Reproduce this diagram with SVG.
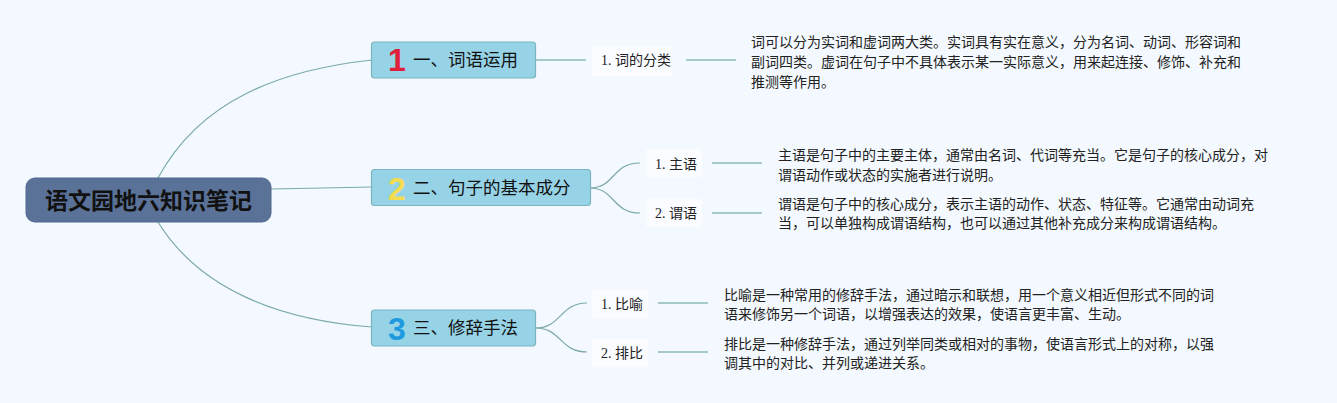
<svg xmlns="http://www.w3.org/2000/svg" width="1337" height="403" viewBox="0 0 1337 403">
<style>
.root-box{fill:#5b7298;stroke:#50688c;stroke-width:1}
.root-text{font-family:"Noto Sans CJK SC",sans-serif;font-size:23px;font-weight:bold;fill:#111}
.b-box{fill:#97d3e6;stroke:#7ab5bf;stroke-width:1.2}
.b-text{font-family:"Noto Sans CJK SC",sans-serif;font-size:17.5px;fill:#111}
.num{font-family:"Liberation Sans",sans-serif;font-size:32px;font-weight:bold}
.s-box{fill:#fafcff}
.s-text{font-family:"Liberation Serif","Noto Sans CJK SC",serif;font-size:14px;fill:#222}
.d-text{font-family:"Noto Sans CJK SC",sans-serif;font-size:14px;fill:#222}
.c{fill:none;stroke:#7aaaa6;stroke-width:1.2}
.h{fill:none;stroke:#a6cbc7;stroke-width:2}
</style>
<rect width="1337" height="403" fill="#f3f9fe"/>
<g id="connectors">
<path class="c" d="M158,178 C200,100 280,70 372,60"/>
<path class="c" d="M271,189 L372,187"/>
<path class="c" d="M158,222 C200,290 280,320 372,327"/>
<path class="h" d="M536,60 L586,60"/>
<path class="h" d="M686,60 L736,60"/>
<path class="c" d="M590,188 C615,188 612,163 640,163"/>
<path class="c" d="M590,188 C615,188 612,213 640,213"/>
<path class="h" d="M712,163 L762,163"/>
<path class="h" d="M712,213 L762,213"/>
<path class="c" d="M536,328 C561,328 560,303 587,303"/>
<path class="c" d="M536,328 C561,328 560,352 587,352"/>
<path class="h" d="M658,303 L708,303"/>
<path class="h" d="M658,352 L708,352"/>
</g>
<g id="root">
<rect class="root-box" x="26" y="178" width="245" height="44" rx="9"/>
<text class="root-text" x="148.5" y="209" text-anchor="middle">语文园地六知识笔记</text>
</g>
<g id="branch1">
<rect class="b-box" x="371.5" y="42" width="164" height="36" rx="3"/>
<text class="num" x="397" y="71" text-anchor="middle" fill="#e0203a">1</text>
<text class="b-text" x="413" y="66">一、词语运用</text>
</g>
<g id="sub1-1">
<rect class="s-box" x="592" y="46" width="80" height="30"/>
<text class="s-text" x="601" y="65">1. 词的分类</text>
</g>
<g id="desc1-1">
<text class="d-text" x="751" y="47">词可以分为实词和虚词两大类。实词具有实在意义，分为名词、动词、形容词和</text>
<text class="d-text" x="751" y="67">副词四类。虚词在句子中不具体表示某一实际意义，用来起连接、修饰、补充和</text>
<text class="d-text" x="751" y="87">推测等作用。</text>
</g>
<g id="branch2">
<rect class="b-box" x="371.5" y="169.5" width="219" height="36" rx="3"/>
<text class="num" x="397" y="200" text-anchor="middle" fill="#f3dc50">2</text>
<text class="b-text" x="413" y="194">二、句子的基本成分</text>
</g>
<g id="sub2-1">
<rect class="s-box" x="646" y="149" width="56" height="28"/>
<text class="s-text" x="655" y="169">1. 主语</text>
</g>
<g id="desc2-1">
<text class="d-text" x="778" y="160">主语是句子中的主要主体，通常由名词、代词等充当。它是句子的核心成分，对</text>
<text class="d-text" x="778" y="180">谓语动作或状态的实施者进行说明。</text>
</g>
<g id="sub2-2">
<rect class="s-box" x="646" y="199" width="56" height="28"/>
<text class="s-text" x="655" y="218">2. 谓语</text>
</g>
<g id="desc2-2">
<text class="d-text" x="778" y="209">谓语是句子中的核心成分，表示主语的动作、状态、特征等。它通常由动词充</text>
<text class="d-text" x="778" y="228">当，可以单独构成谓语结构，也可以通过其他补充成分来构成谓语结构。</text>
</g>
<g id="branch3">
<rect class="b-box" x="371.5" y="310" width="164" height="36" rx="3"/>
<text class="num" x="397" y="340" text-anchor="middle" fill="#1e9be0">3</text>
<text class="b-text" x="413" y="334">三、修辞手法</text>
</g>
<g id="sub3-1">
<rect class="s-box" x="592" y="290" width="56" height="28"/>
<text class="s-text" x="601" y="309">1. 比喻</text>
</g>
<g id="desc3-1">
<text class="d-text" x="724" y="300">比喻是一种常用的修辞手法，通过暗示和联想，用一个意义相近但形式不同的词</text>
<text class="d-text" x="724" y="319">语来修饰另一个词语，以增强表达的效果，使语言更丰富、生动。</text>
</g>
<g id="sub3-2">
<rect class="s-box" x="592" y="339" width="56" height="28"/>
<text class="s-text" x="601" y="358">2. 排比</text>
</g>
<g id="desc3-2">
<text class="d-text" x="724" y="349">排比是一种修辞手法，通过列举同类或相对的事物，使语言形式上的对称，以强</text>
<text class="d-text" x="724" y="368">调其中的对比、并列或递进关系。</text>
</g>
</svg>
